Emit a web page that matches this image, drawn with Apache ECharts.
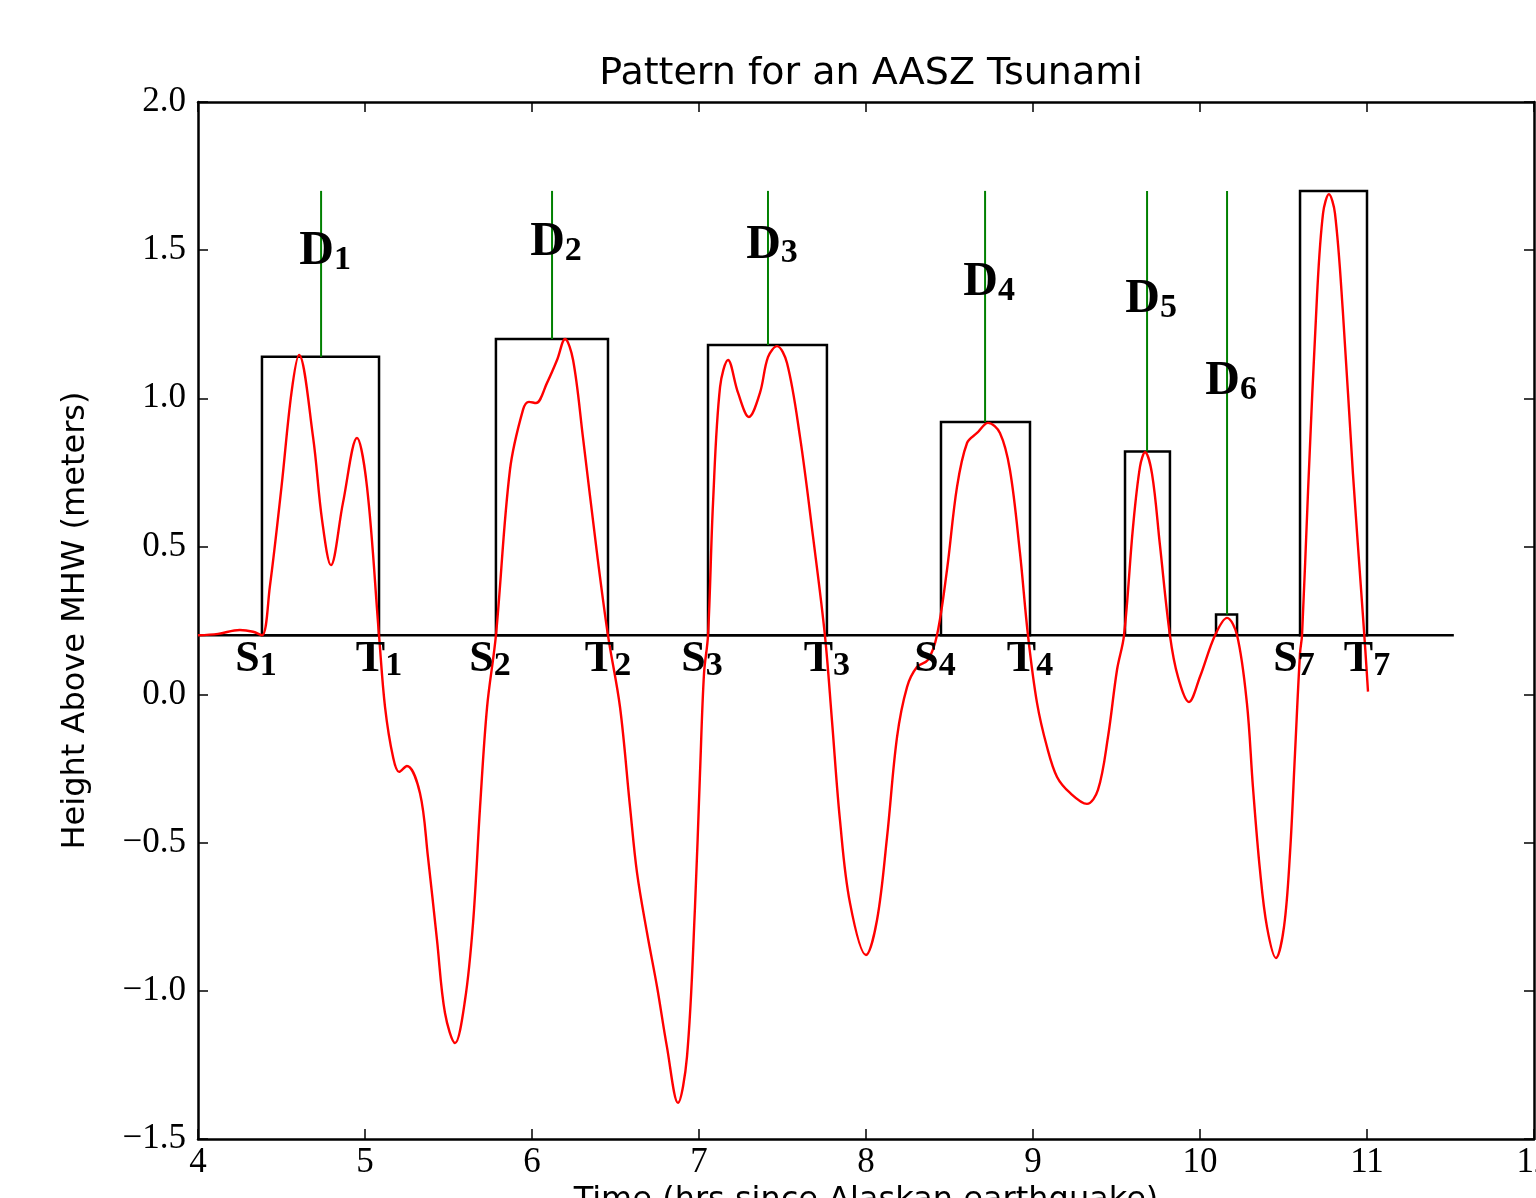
<!DOCTYPE html>
<html>
<head>
<meta charset="utf-8">
<script src="https://cdn.jsdelivr.net/npm/echarts@6/dist/echarts.min.js"></script>
<style>
html,body{margin:0;padding:0;background:#fff;}
#chart{width:1536px;height:1198px;}
</style>
</head>
<body>
<div id="chart"></div>
<script>
// ---- data ----
var xTicks = [4, 5, 6, 7, 8, 9, 10, 11, 12];
var yTicks = [-1.5, -1.0, -0.5, 0.0, 0.5, 1.0, 1.5, 2.0];

// tsunami wave height (time in hrs, height in m)
var waveTime = [4.00,4.12,4.25,4.33,4.383,4.43,4.50,4.56,4.605,4.689,4.743,4.796,4.868,4.952,5.012,5.084,
 5.120,5.168,5.204,5.251,5.329,5.377,5.431,5.479,5.539,5.599,5.647,5.689,5.731,5.784,
 5.868,5.946,5.982,6.024,6.090,6.150,6.198,6.246,6.305,6.389,6.455,
 6.527,6.587,6.629,6.689,6.749,6.808,6.874,6.928,6.976,7.006,7.030,7.054,
 7.084,7.126,7.174,7.234,7.299,7.365,7.413,7.467,7.527,7.605,7.683,7.754,
 7.796,7.844,7.904,8.000,8.066,8.126,8.186,8.246,8.305,8.371,8.425,
 8.485,8.545,8.605,8.665,8.731,8.802,8.862,8.922,8.970,
 9.024,9.084,9.144,9.222,9.323,9.389,9.449,9.503,9.545,
 9.599,9.641,9.671,9.713,9.760,9.820,9.868,9.934,10.000,10.090,10.162,10.222,
 10.281,10.317,10.359,10.401,10.455,10.503,10.539,10.569,10.599,10.611,
 10.647,10.701,10.737,10.772,10.808,10.856,10.916,10.976,10.990,11.006];
var waveHeight = [0.200,0.205,0.218,0.212,0.200,0.363,0.701,1.020,1.146,0.869,0.589,0.437,0.647,0.866,0.701,0.200,
 -0.042,-0.211,-0.261,-0.241,-0.332,-0.548,-0.828,-1.075,-1.176,-1.031,-0.771,-0.379,-0.042,0.200,
 0.758,0.961,0.988,0.984,1.052,1.129,1.200,1.129,0.869,0.478,0.200,
 -0.042,-0.379,-0.602,-0.805,-0.987,-1.189,-1.378,-1.223,-0.717,-0.265,0.071,0.200,
 0.647,1.038,1.129,1.018,0.937,1.018,1.139,1.176,1.119,0.869,0.532,0.200,
 -0.086,-0.423,-0.703,-0.879,-0.761,-0.481,-0.143,0.026,0.093,0.117,0.200,
 0.421,0.701,0.849,0.883,0.917,0.883,0.758,0.478,0.200,
 -0.028,-0.177,-0.278,-0.332,-0.369,-0.322,-0.143,0.083,0.200,
 0.566,0.770,0.818,0.744,0.505,0.200,0.060,-0.025,0.060,0.200,0.259,0.200,
 -0.030,-0.312,-0.592,-0.784,-0.889,-0.784,-0.535,-0.197,0.140,0.200,
 0.687,1.349,1.625,1.689,1.625,1.288,0.744,0.264,0.150,0.010];

// threshold line
var threshold = 0.2;
var thresholdStart = 4.0;
var thresholdEnd = 11.52;

// exceedance boxes: start time, end time, max height
var boxStart = [4.383, 5.784, 7.054, 8.449, 9.551, 10.096, 10.599];
var boxEnd   = [5.084, 6.455, 7.766, 8.982, 9.820, 10.222, 11.000];
var boxTop   = [1.14, 1.20, 1.18, 0.92, 0.82, 0.27, 1.70];

// D markers (green lines): time of peak, label height
var dTime   = [4.737, 6.120, 7.413, 8.713, 9.683, 10.162];
var dTop    = [1.14, 1.20, 1.18, 0.92, 0.82, 0.27];
var dLineTop = 1.70;
var dLabel  = ['1', '2', '3', '4', '5', '6'];
var dLabelY = [1.494, 1.524, 1.517, 1.389, 1.332, 1.055];

// S / T labels
var stLetter = ['S','T','S','T','S','T','S','T','S','T'];
var stIndex  = ['1','1','2','2','3','3','4','4','7','7'];
var stTime   = [4.383, 5.084, 5.784, 6.455, 7.054, 7.766, 8.449, 8.982, 10.599, 11.000];

// ---- build ----
var waveData = waveTime.map(function (t, i) { return [t, waveHeight[i]]; });
var boxData = boxStart.map(function (s, i) { return [s, boxEnd[i], boxTop[i]]; });
var dData = dTime.map(function (t, i) { return [t, dTop[i], dLabelY[i], dLabel[i]]; });
var stData = stTime.map(function (t, i) { return [t, threshold, stLetter[i], stIndex[i]]; });

var serif = '"Liberation Serif", "DejaVu Serif", serif';
var sans = '"DejaVu Sans", sans-serif';

function fmtY(v) {
  var s = Math.abs(v).toFixed(1);
  return v < 0 ? '\u2212' + s : s;
}

var chart = echarts.init(document.getElementById('chart'), null, {renderer: 'canvas'});

var axisLineStyle = {color: '#000', width: 2.5};
var tickStyle = {color: '#000', width: 1.5};

var option = {
  backgroundColor: '#fff',
  animation: false,
  title: {
    text: 'Pattern for an AASZ Tsunami',
    left: 866,
    textAlign: 'center',
    top: 50,
    textStyle: {fontFamily: sans, fontSize: 38, fontWeight: 'normal', color: '#000'}
  },
  grid: {left: 198, right: 2, top: 102, bottom: 59, containLabel: false, outerBoundsMode: 'none'},
  xAxis: [{
    type: 'value', min: 4, max: 12, interval: 1, position: 'bottom',
    name: 'Time (hrs since Alaskan earthquake)', nameLocation: 'middle', nameGap: 40,
    nameTextStyle: {fontFamily: sans, fontSize: 32, color: '#000'},
    axisLine: {show: true, onZero: false, lineStyle: axisLineStyle},
    axisTick: {show: true, inside: true, length: 10, lineStyle: tickStyle},
    axisLabel: {fontFamily: serif, fontSize: 35, color: '#000', margin: 6,
      formatter: function (v) { return String(v); }},
    splitLine: {show: false}
  }, {
    type: 'value', min: 4, max: 12, interval: 1, position: 'top',
    axisLine: {show: true, onZero: false, lineStyle: axisLineStyle},
    axisTick: {show: true, inside: true, length: 10, lineStyle: tickStyle},
    axisLabel: {show: false}, splitLine: {show: false}
  }],
  yAxis: [{
    type: 'value', min: -1.5, max: 2.0, interval: 0.5, position: 'left',
    name: 'Height Above MHW (meters)', nameLocation: 'middle', nameGap: 106,
    nameTextStyle: {fontFamily: sans, fontSize: 32, color: '#000'},
    axisLine: {show: true, onZero: false, lineStyle: axisLineStyle},
    axisTick: {show: true, inside: true, length: 10, lineStyle: tickStyle},
    axisLabel: {fontFamily: serif, fontSize: 35, color: '#000', margin: 12, formatter: fmtY},
    splitLine: {show: false}
  }, {
    type: 'value', min: -1.5, max: 2.0, interval: 0.5, position: 'right',
    axisLine: {show: true, onZero: false, lineStyle: axisLineStyle},
    axisTick: {show: true, inside: true, length: 10, lineStyle: tickStyle},
    axisLabel: {show: false}, splitLine: {show: false}
  }],
  series: [
    {
      type: 'line', name: 'threshold',
      data: [[thresholdStart, threshold], [thresholdEnd, threshold]],
      symbol: 'none', lineStyle: {color: '#000', width: 2.5}, z: 3
    },
    {
      type: 'custom', name: 'boxes', data: boxData, z: 3,
      encode: {x: [0, 1], y: 2},
      renderItem: function (params, api) {
        var p1 = api.coord([api.value(0), api.value(2)]);
        var p2 = api.coord([api.value(1), threshold]);
        return {
          type: 'rect',
          shape: {x: p1[0], y: p1[1], width: p2[0] - p1[0], height: p2[1] - p1[1]},
          style: {fill: 'none', stroke: '#000', lineWidth: 2.5}
        };
      }
    },
    {
      type: 'custom', name: 'dLines', data: dData, z: 4,
      encode: {x: 0, y: 1},
      renderItem: function (params, api) {
        var top = api.coord([api.value(0), dLineTop]);
        var bot = api.coord([api.value(0), api.value(1)]);
        var lab = api.coord([api.value(0), api.value(2)]);
        return {
          type: 'group',
          children: [{
            type: 'line',
            shape: {x1: top[0], y1: top[1], x2: bot[0], y2: bot[1]},
            style: {stroke: '#008000', lineWidth: 2}
          }, {
            type: 'text',
            x: lab[0] + 4, y: lab[1],
            style: {
              text: '{m|D}{s|' + dLabel[params.dataIndex] + '}',
              align: 'center', verticalAlign: 'middle',
              rich: {
                m: {fontFamily: serif, fontSize: 48, fontWeight: 'bold', fill: '#000'},
                s: {fontFamily: serif, fontSize: 34, fontWeight: 'bold', fill: '#000', padding: [16, 0, 0, 0]}
              }
            },
            z2: 10
          }]
        };
      }
    },
    {
      type: 'line', name: 'wave', data: waveData, symbol: 'none',
      smooth: 0.35, lineStyle: {color: '#ff0000', width: 2.4}, z: 5
    },
    {
      type: 'custom', name: 'stLabels', data: stData, z: 6,
      encode: {x: 0, y: 1},
      renderItem: function (params, api) {
        var i = params.dataIndex;
        var p = api.coord([api.value(0), api.value(1)]);
        var dx = stLetter[i] === 'S' ? -6 : 0;
        return {
          type: 'text',
          x: p[0] + dx, y: p[1] + 24,
          style: {
            text: '{m|' + stLetter[i] + '}{s|' + stIndex[i] + '}',
            align: 'center', verticalAlign: 'middle',
            rich: {
              m: {fontFamily: serif, fontSize: 44, fontWeight: 'bold', fill: '#000'},
              s: {fontFamily: serif, fontSize: 34, fontWeight: 'bold', fill: '#000', padding: [14, 0, 0, 0]}
            }
          }
        };
      }
    }
  ]
};
chart.setOption(option);
</script>
</body>
</html>
